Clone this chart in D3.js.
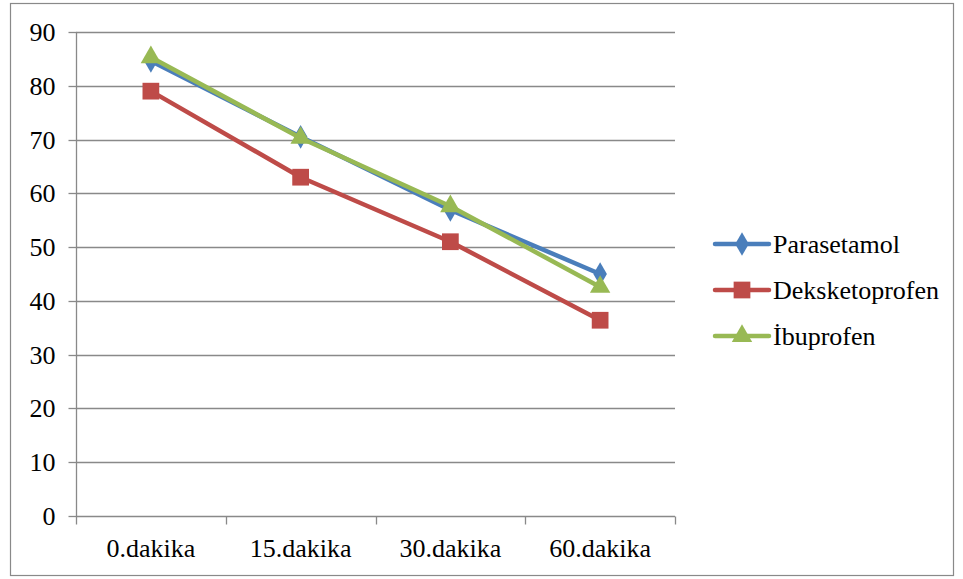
<!DOCTYPE html>
<html>
<head>
<meta charset="utf-8">
<script src="https://cdn.jsdelivr.net/npm/d3@7"></script>
<style>
  html, body { margin: 0; padding: 0; background: #fff; }
  svg { display: block; }
  text { font-family: "Liberation Serif", "Times New Roman", serif; fill: #000; }
</style>
</head>
<body>
<svg id="chart" width="963" height="579"></svg>
<script>
// Categories (time points) and y-axis ticks
const categories = ["0.dakika", "15.dakika", "30.dakika", "60.dakika"];
const yTicks = [0, 10, 20, 30, 40, 50, 60, 70, 80, 90];

// Series values
const parasetamol = [84.6, 70.5, 56.9, 45.0];
const deksketoprofen = [79.0, 63.0, 51.0, 36.4];
const ibuprofen = [85.3, 70.3, 57.6, 42.6];

const series = [
  { name: "Parasetamol", values: parasetamol, color: "#4A7EBB", symbol: d3.symbolDiamond, size: 160 },
  { name: "Deksketoprofen", values: deksketoprofen, color: "#BE4B48", symbol: d3.symbolSquare, size: 280 },
  { name: "İbuprofen", values: ibuprofen, color: "#98B954", symbol: d3.symbolTriangle, size: 180 }
];

const FONT_SIZE = 26;
const GRID = "#898989";

const svg = d3.select("#chart");

// Outer chart frame
svg.append("rect")
  .attr("x", 10.5).attr("y", 3.5)
  .attr("width", 943).attr("height", 572)
  .attr("fill", "#fff").attr("stroke", GRID).attr("stroke-width", 1.2);

const plot = { left: 76, right: 675, top: 32, bottom: 516 };

const x = d3.scaleBand().domain(categories).range([plot.left, plot.right]);
const y = d3.scaleLinear().domain([0, 90]).range([plot.bottom, plot.top]);

// Horizontal gridlines
svg.append("g")
  .selectAll("line")
  .data(yTicks.filter(t => t > 0))
  .join("line")
  .attr("x1", plot.left).attr("x2", plot.right)
  .attr("y1", d => Math.round(y(d)) + 0.5).attr("y2", d => Math.round(y(d)) + 0.5)
  .attr("stroke", GRID).attr("stroke-width", 1.3);

// Y axis
const yAxis = svg.append("g")
  .attr("transform", `translate(${plot.left + 0.5},0)`)
  .call(d3.axisLeft(y).tickValues(yTicks).tickSize(8).tickPadding(13).tickFormat(d3.format("d")));
yAxis.attr("font-family", null).attr("font-size", null);
yAxis.select(".domain").attr("stroke", GRID).attr("stroke-width", 1.3).attr("d", `M0,${plot.top}V${plot.bottom}`);
yAxis.selectAll(".tick line").attr("stroke", GRID).attr("stroke-width", 1.3);
yAxis.selectAll(".tick text").attr("font-size", FONT_SIZE);
yAxis.selectAll(".tick").attr("transform", d => `translate(0,${Math.round(y(d)) + 0.5})`);

// X axis with ticks at band boundaries
const xAxisG = svg.append("g").attr("transform", `translate(0,${plot.bottom + 0.5})`);
xAxisG.append("line")
  .attr("x1", plot.left).attr("x2", plot.right)
  .attr("stroke", GRID).attr("stroke-width", 1.3);
const bounds = categories.map(c => x(c)).concat([plot.right]);
xAxisG.selectAll("line.tk")
  .data(bounds)
  .join("line").attr("class", "tk")
  .attr("x1", d => Math.round(d) + 0.5).attr("x2", d => Math.round(d) + 0.5)
  .attr("y1", 0).attr("y2", 8)
  .attr("stroke", GRID).attr("stroke-width", 1.3);
xAxisG.selectAll("text")
  .data(categories)
  .join("text")
  .attr("x", d => x(d) + x.bandwidth() / 2)
  .attr("y", 40)
  .attr("text-anchor", "middle")
  .attr("font-size", FONT_SIZE)
  .text(d => d);

// Lines and markers
const line = d3.line()
  .x((d, i) => x(categories[i]) + x.bandwidth() / 2)
  .y(d => y(d));

series.forEach(s => {
  const g = svg.append("g");
  g.append("path")
    .datum(s.values)
    .attr("d", line)
    .attr("fill", "none")
    .attr("stroke", s.color)
    .attr("stroke-width", 4.5)
    .attr("stroke-linejoin", "round")
    .attr("stroke-linecap", "round");
  g.selectAll("path.m")
    .data(s.values)
    .join("path").attr("class", "m")
    .attr("transform", (d, i) => `translate(${x(categories[i]) + x.bandwidth() / 2},${y(d)})`)
    .attr("d", d3.symbol().type(s.symbol).size(s.size))
    .attr("fill", s.color);
});

// Legend
const legend = svg.append("g");
series.forEach((s, i) => {
  const ly = 244 + i * 46;
  const row = legend.append("g").attr("transform", `translate(0,${ly})`);
  row.append("line")
    .attr("x1", 715).attr("x2", 769).attr("y1", 0).attr("y2", 0)
    .attr("stroke", s.color).attr("stroke-width", 4.5).attr("stroke-linecap", "round");
  row.append("path")
    .attr("transform", "translate(742,0)")
    .attr("d", d3.symbol().type(s.symbol).size(s.size))
    .attr("fill", s.color);
  row.append("text")
    .attr("x", 773).attr("y", 9)
    .attr("font-size", FONT_SIZE)
    .text(s.name);
});
</script>
</body>
</html>
